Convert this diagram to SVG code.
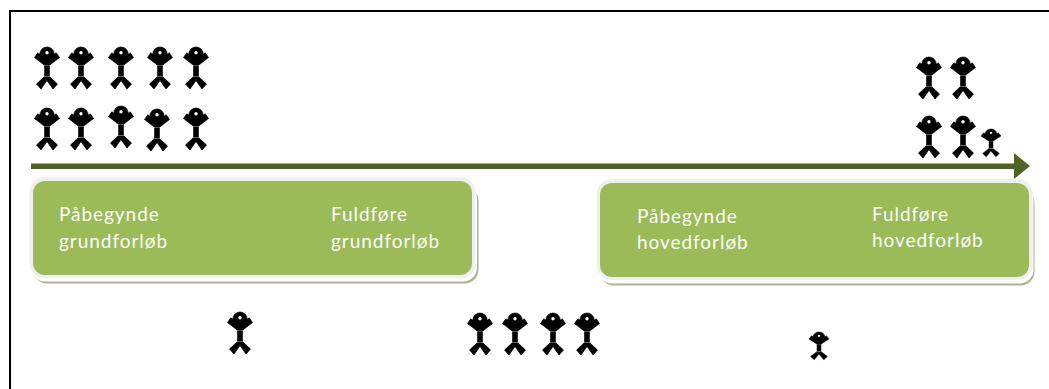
<svg xmlns="http://www.w3.org/2000/svg" width="1049" height="389" viewBox="0 0 1049 389">
<style>
text{font-family:"Lato","Open Sans","Liberation Sans",sans-serif;font-size:19px;fill:#fdfef9;letter-spacing:.95px}
.shadow{fill:#a9b596}.shadow2{fill:#fff}.edge{fill:#efefef}.body{fill:#9bbb59}
.fig{fill:#000;stroke:#000;stroke-width:.7}
</style>
<defs>
<g id="p">
<circle class="fig" cx="0" cy="7.200" r="7.200"/>
<path class="fig" d="M-12.500 10.500L-9.200 5.800L0 13L9.200 5.800L12.500 10.500L2.800 18H-2.800Z"/>
<path d="M-2.800 18.500H2.800V29H-2.800Z" fill="#000"/>
<path class="fig" d="M-2.800 29.800H2.800L10.500 37L6 42L0 33.500L-6 42L-10.500 37Z"/>
<circle cx="0" cy="5.800" r="1.700" fill="#fff"/>
</g>
<g id="s" transform="scale(.8 .66)"><use href="#p"/></g>
</defs>
<path id="frame" d="M10 389V11H1049" fill="none" stroke="#000" stroke-width="2"/>
<g id="connectors">
<path d="M31 163.500H1014V153L1030 166L1014 179V169H31Z" fill="#4f6228"/>
</g>
<g id="box-grundforlob">
<rect x="33" y="187" width="445.500" height="96.500" rx="14" class="shadow"/>
<rect x="31" y="184" width="446" height="97.500" rx="14" class="shadow2"/>
<rect x="29.500" y="177" width="446" height="101.500" rx="15" class="edge"/>
<rect x="33" y="181" width="439" height="94" rx="12" class="body"/>
<text x="59" y="221">Påbegynde</text><text x="59" y="248">grundforløb</text>
<text x="331" y="221">Fuldføre</text><text x="331" y="248">grundforløb</text>
</g>
<g id="box-hovedforlob">
<rect x="600" y="189" width="434.500" height="96.500" rx="14" class="shadow"/>
<rect x="598" y="186" width="435.500" height="97.500" rx="14" class="shadow2"/>
<rect x="596.700" y="179" width="436" height="101" rx="15" class="edge"/>
<rect x="600" y="183" width="429" height="94" rx="12" class="body"/>
<text x="637" y="223">Påbegynde</text><text x="637" y="249">hovedforløb</text>
<text x="872" y="221">Fuldføre</text><text x="872" y="247">hovedforløb</text>
</g>
<g id="people-top-left">
<use href="#p" x="47" y="47"/><use href="#p" x="81" y="47"/><use href="#p" x="121" y="47"/><use href="#p" x="160" y="47"/><use href="#p" x="196" y="47"/>
<use href="#p" x="47" y="108"/><use href="#p" x="81" y="108"/><use href="#p" x="121" y="106"/><use href="#p" x="157" y="109"/><use href="#p" x="196" y="108"/>
</g>
<g id="people-top-right">
<use href="#p" x="929" y="57"/><use href="#p" x="963" y="57"/><use href="#p" x="929" y="116"/><use href="#p" x="963" y="116"/>
<use href="#s" transform="translate(991 129)"/>
</g>
<g id="people-bottom">
<use href="#p" x="240" y="312"/>
<use href="#p" x="480" y="313"/><use href="#p" x="515" y="313"/><use href="#p" x="553" y="313"/><use href="#p" x="587" y="313"/>
<use href="#s" transform="translate(819 332)"/>
</g>
</svg>
